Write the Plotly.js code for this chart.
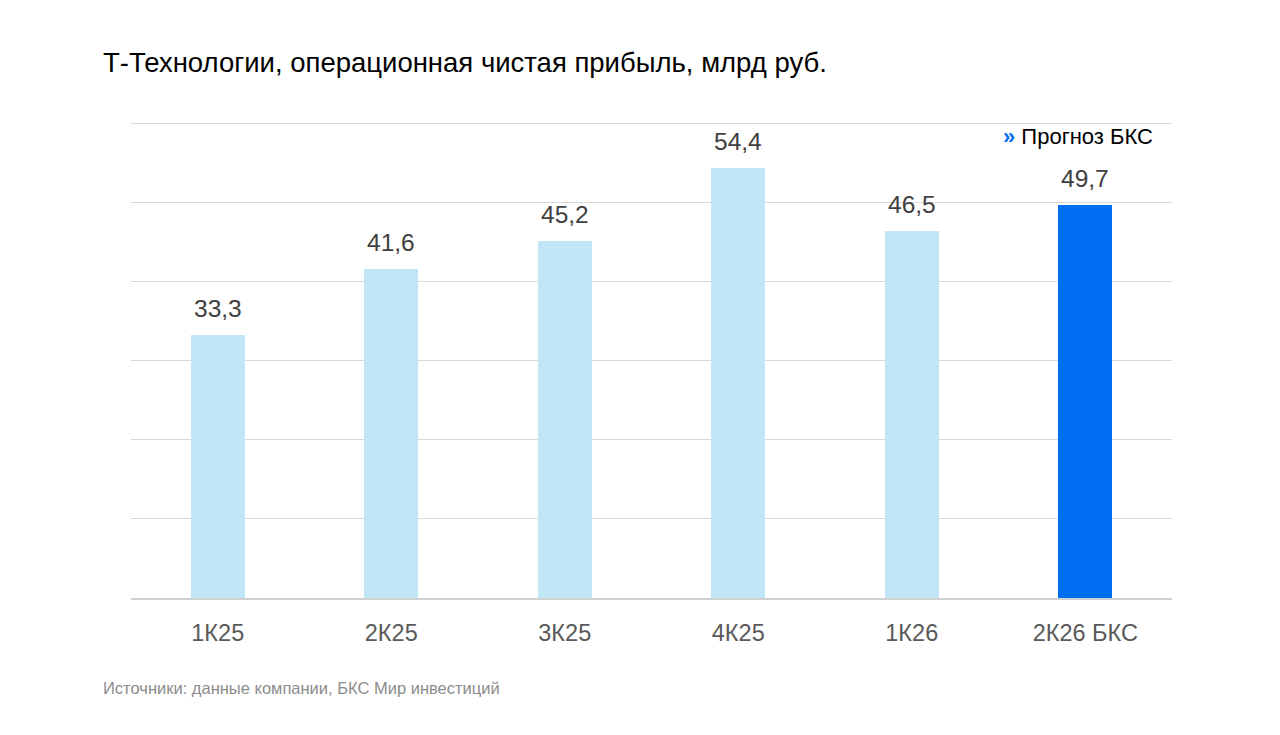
<!DOCTYPE html>
<html>
<head>
<meta charset="utf-8">
<script src="https://cdn.plot.ly/plotly-3.0.1.min.js"></script>
<style>
  html, body { margin: 0; padding: 0; background: #fff; }
  #chart { width: 1280px; height: 735px; }
</style>
</head>
<body>
<div id="chart"></div>
<script>
// quarters and values, bn rub
const quarters = ['1К25', '2К25', '3К25', '4К25', '1К26', '2К26 БКС'];
const profit = [33.3, 41.6, 45.2, 54.4, 46.5, 49.7];
const labels = ['33,3', '41,6', '45,2', '54,4', '46,5', '49,7'];
const isForecast = [false, false, false, false, false, true];

const FONT = 'Liberation Sans, Arial, sans-serif';
const lightBlue = '#c1e6f5';
const darkBlue = '#006ef0';

const barColors = isForecast.map(f => f ? darkBlue : lightBlue);

const trace = {
  type: 'bar',
  x: quarters,
  y: profit,
  width: 0.31,
  marker: { color: barColors },
  hoverinfo: 'skip'
};

// value labels above bars
const valueNotes = quarters.map((q, i) => ({
  x: q, y: profit[i], xref: 'x', yref: 'y',
  text: labels[i], showarrow: false,
  yanchor: 'bottom', yshift: 11,
  font: { family: FONT, size: 24.5, color: '#404040' }
}));

// plot box: top 116, bottom 598 (482px for 0..61)
const plotH = 735 - 116 - 137;

const layout = {
  width: 1280,
  height: 735,
  paper_bgcolor: '#fff',
  plot_bgcolor: '#fff',
  margin: { l: 131, r: 108, t: 116, b: 137 },
  showlegend: false,
  bargap: 0,
  title: {
    text: 'Т-Технологии, операционная чистая прибыль, млрд руб.',
    font: { family: FONT, size: 27.5, color: '#000' },
    x: 103 / 1280, xanchor: 'left',
    y: 1 - 62 / 735, yanchor: 'middle'
  },
  xaxis: {
    type: 'category',
    showgrid: false,
    showline: true,
    linecolor: '#d0d0d0',
    linewidth: 2,
    ticks: '',
    tickfont: { family: FONT, size: 23.5, color: '#595959' },
    ticklabelstandoff: 13
  },
  yaxis: {
    range: [0, 61],
    tickvals: [10, 20, 30, 40, 50, 60],
    showticklabels: false,
    showgrid: true,
    gridcolor: '#d9d9d9',
    gridwidth: 1,
    zeroline: false,
    fixedrange: true
  },
  annotations: valueNotes.concat([
    {
      xref: 'paper', yref: 'paper',
      x: 1, y: 1 - (137 - 116) / plotH,
      xanchor: 'right', yanchor: 'middle',
      text: '<b><span style="color:' + darkBlue + '">»</span></b> Прогноз БКС',
      showarrow: false,
      font: { family: FONT, size: 22, color: '#000' },
      xshift: -17
    },
    {
      xref: 'paper', yref: 'paper',
      x: (101 - 131) / 1041, y: -(688 - 598) / plotH,
      xanchor: 'left', yanchor: 'middle',
      text: 'Источники: данные компании, БКС Мир инвестиций',
      showarrow: false,
      font: { family: FONT, size: 16.5, color: '#8c8c8c' }
    }
  ])
};

Plotly.newPlot('chart', [trace], layout, { displayModeBar: false, staticPlot: true });
</script>
</body>
</html>
